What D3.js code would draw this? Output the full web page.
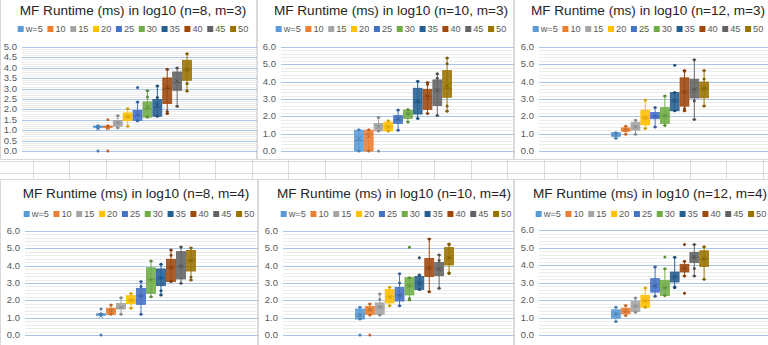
<!DOCTYPE html>
<html>
<head>
<meta charset="utf-8">
<script src="https://cdn.jsdelivr.net/npm/d3@7"></script>
<style>
  body { margin: 0; background: #fff; }
  svg { display: block; font-family: "Liberation Sans", Arial, sans-serif; }
</style>
</head>
<body>
<svg id="chart" width="768" height="345"></svg>
<script>
const series = ["w=5", "10", "15", "20", "25", "30", "35", "40", "45", "50"];
const colors = ["#5B9BD5", "#ED7D31", "#A5A5A5", "#FFC000", "#4472C4", "#70AD47", "#255E91", "#9E480E", "#636363", "#997300"];
const titles = [
  "MF Runtime (ms) in log10 (n=8, m=3)", "MF Runtime (ms) in log10 (n=10, m=3)", "MF Runtime (ms) in log10 (n=12, m=3)",
  "MF Runtime (ms) in log10 (n=8, m=4)", "MF Runtime (ms) in log10 (n=10, m=4)", "MF Runtime (ms) in log10 (n=12, m=4)"
];
const yMax = [5, 6, 6, 6, 6, 6];
const yStep = [0.5, 1, 1, 1, 1, 1];

// [low whisker, q1, median, q3, high whisker, mean] per series
const n8m3 = [
  [1.10, 1.15, 1.18, 1.20, 1.21, 1.07], [1.10, 1.14, 1.17, 1.20, 1.21, 1.10], [1.12, 1.19, 1.35, 1.47, 1.70, 1.35],
  [1.19, 1.47, 1.65, 1.83, 2.03, 1.65], [1.45, 1.47, 1.70, 1.95, 2.35, 1.75], [1.63, 1.63, 2.05, 2.36, 2.90, 2.10],
  [1.67, 1.67, 2.10, 2.48, 3.13, 2.20], [1.80, 2.28, 3.00, 3.51, 3.93, 3.05], [2.15, 2.92, 3.30, 3.80, 3.99, 3.35],
  [2.88, 3.40, 3.90, 4.36, 4.68, 3.90]
];
const n10m3 = [
  [0.00, 0.00, 0.60, 1.20, 1.22, 0.72], [0.00, 0.00, 1.00, 1.20, 1.22, 0.85], [1.16, 1.16, 1.45, 1.59, 1.93, 1.40],
  [1.16, 1.16, 1.40, 1.66, 1.74, 1.40], [1.20, 1.59, 1.80, 2.05, 2.36, 1.85], [1.68, 1.88, 2.15, 2.36, 2.40, 2.15],
  [1.88, 2.13, 2.85, 3.62, 4.02, 2.85], [2.17, 2.40, 3.15, 3.56, 3.95, 3.15], [2.05, 2.63, 3.50, 4.10, 4.45, 3.50],
  [2.30, 3.10, 3.60, 4.64, 5.36, 3.75]
];
const n12m3 = [
  [0.73, 0.85, 0.92, 1.06, 1.06, 0.92], [0.97, 1.14, 1.22, 1.33, 1.43, 1.22], [0.97, 1.20, 1.40, 1.66, 1.78, 1.40],
  [1.30, 1.51, 1.90, 2.36, 2.94, 1.90], [1.39, 1.86, 2.00, 2.22, 2.51, 2.00], [1.47, 1.59, 2.05, 2.50, 3.17, 2.05],
  [2.32, 2.32, 2.90, 3.37, 3.37, 2.90], [2.32, 2.59, 3.40, 4.22, 4.64, 3.40], [1.82, 3.06, 3.55, 4.14, 5.26, 3.55],
  [2.59, 3.07, 3.60, 3.98, 4.64, 3.60]
];
const n8m4 = [
  [1.15, 1.17, 1.20, 1.22, 1.22, 1.10], [1.19, 1.19, 1.40, 1.54, 1.73, 1.40], [1.19, 1.50, 1.60, 1.83, 2.15, 1.60],
  [1.54, 1.81, 2.00, 2.27, 2.40, 2.00], [1.19, 1.77, 2.25, 2.69, 3.08, 2.25], [2.21, 2.40, 3.20, 3.88, 4.27, 3.20],
  [2.31, 2.85, 3.30, 3.81, 4.08, 3.30], [3.08, 3.08, 3.90, 4.37, 4.90, 3.90], [2.98, 3.23, 3.95, 4.81, 5.08, 3.95],
  [3.17, 3.69, 4.30, 4.88, 5.02, 4.30]
];
const n10m4 = [
  [0.92, 0.92, 1.15, 1.50, 1.60, 1.15], [1.15, 1.19, 1.45, 1.65, 1.79, 1.45], [1.15, 1.19, 1.60, 1.85, 2.37, 1.60],
  [1.69, 1.85, 2.20, 2.62, 2.75, 2.20], [1.69, 1.96, 2.30, 2.75, 3.54, 2.30], [2.02, 2.31, 2.85, 3.31, 3.31, 2.85],
  [2.62, 2.62, 3.00, 3.38, 3.46, 3.00], [2.50, 3.38, 3.85, 4.42, 5.54, 3.85], [2.69, 3.42, 3.80, 4.19, 4.62, 3.80],
  [3.58, 4.04, 4.45, 5.04, 5.25, 4.45]
];
const n12m4 = [
  [0.77, 0.96, 1.20, 1.44, 1.59, 1.20], [1.11, 1.21, 1.35, 1.53, 1.69, 1.35], [1.30, 1.34, 1.65, 1.92, 2.11, 1.65],
  [1.59, 1.59, 1.95, 2.26, 2.68, 1.95], [2.22, 2.45, 2.80, 3.22, 3.89, 2.80], [2.26, 2.26, 2.70, 3.12, 3.79, 2.70],
  [2.74, 3.03, 3.30, 3.60, 4.44, 3.30], [3.37, 3.60, 3.80, 4.04, 4.21, 3.80], [3.37, 4.14, 4.45, 4.71, 5.17, 4.45],
  [3.18, 3.91, 4.35, 4.81, 5.04, 4.35]
];
// visible single points (outliers and marked inner points) per series
const n8m3Pts = [[0], [0, 1.5], [], [], [3.05], [2.6], [2.57], [1.9], [], [3.25]];
const n10m3Pts = [[], [], [0], [], [], [], [], [3.85], [4.2], [5.03, 2.6]];
const n12m3Pts = [[], [], [], [], [], [], [4.95], [4.6, 2.45], [2.9], [4.15]];
const n8m4Pts = [[0, 1.5], [], [], [], [2.8], [], [2.55], [4.6], [], [3.35]];
const n10m4Pts = [[0], [0], [2.05], [], [3.0], [5.06, 2.1], [4.46], [], [4.3], [5.2, 3.55]];
const n12m4Pts = [[], [], [], [], [], [4.46], [2.7], [5.17, 2.39], [3.8], []];

const stats = [n8m3, n10m3, n12m3, n8m4, n10m4, n12m4];
const points = [n8m3Pts, n10m3Pts, n12m3Pts, n8m4Pts, n10m4Pts, n12m4Pts];

// panel geometry (screen layout)
const panels = [
  {x0: 0,   x1: 257, y0: -1,  y1: 160, plotL: 22,  top: 47,  bottom: 151, band: [93, 192],  titleX: 133, titleY: 15,  legX: 133, legY: 29},
  {x0: 257, x1: 514, y0: -1,  y1: 160, plotL: 281, top: 47,  bottom: 151, band: [354, 452], titleX: 391, titleY: 15,  legX: 391, legY: 29},
  {x0: 514, x1: 769, y0: -1,  y1: 160, plotL: 539, top: 47,  bottom: 151, band: [611, 709], titleX: 648, titleY: 15,  legX: 648, legY: 29},
  {x0: 0,   x1: 258, y0: 179, y1: 346, plotL: 25,  top: 231, bottom: 335, band: [96, 196],  titleX: 136, titleY: 198, legX: 139, legY: 214},
  {x0: 258, x1: 514, y0: 179, y1: 346, plotL: 283, top: 231, bottom: 335, band: [355, 454], titleX: 394, titleY: 198, legX: 396, legY: 214},
  {x0: 514, x1: 769, y0: 179, y1: 346, plotL: 539, top: 230, bottom: 335, band: [611, 709], titleX: 650, titleY: 198, legX: 651, legY: 214}
];

const svg = d3.select("#chart");

// spreadsheet cells visible between the two rows of charts
const sheet = svg.append("g");
sheet.append("rect").attr("x", 0).attr("y", 0).attr("width", 768).attr("height", 345).attr("fill", "#fff");
d3.range(33, 768, 36.5).forEach(x => {
  sheet.append("line").attr("x1", x).attr("x2", x).attr("y1", 160).attr("y2", 179)
    .attr("stroke", "#dcdcdc").attr("shape-rendering", "crispEdges");
});
[161, 173].forEach(y => {
  sheet.append("line").attr("x1", 0).attr("x2", 768).attr("y1", y).attr("y2", y)
    .attr("stroke", "#dcdcdc").attr("shape-rendering", "crispEdges");
});

function darker(c, k) { return d3.color(c).darker(k).formatHex(); }

panels.forEach((p, pi) => {
  const clipId = "clip" + pi;
  svg.append("clipPath").attr("id", clipId)
    .append("rect").attr("x", p.x0).attr("y", p.y0).attr("width", p.x1 - p.x0).attr("height", p.y1 - p.y0);

  const g = svg.append("g").attr("clip-path", `url(#${clipId})`);
  g.append("rect")
    .attr("x", p.x0 + 0.5).attr("y", p.y0 + 0.5)
    .attr("width", p.x1 - p.x0 - 1).attr("height", p.y1 - p.y0 - 1)
    .attr("fill", "#fff").attr("stroke", "#d9d9d9");

  const y = d3.scaleLinear().domain([0, yMax[pi]]).range([p.bottom, p.top]);
  const x = d3.scaleBand().domain(series).range(p.band).paddingInner(0.1).paddingOuter(0.05);
  const bw = x.bandwidth();
  const gridR = p.x1 + 4;

  // minor grid
  const minorStep = yStep[pi] / 5;
  g.append("g").selectAll("line")
    .data(d3.range(0, yMax[pi] + 1e-9, minorStep))
    .join("line")
    .attr("x1", p.plotL).attr("x2", gridR)
    .attr("y1", d => Math.round(y(d)) + 0.5).attr("y2", d => Math.round(y(d)) + 0.5)
    .attr("stroke", "#ececec");

  // major grid + labels
  const ticks = d3.range(0, yMax[pi] + 1e-9, yStep[pi]);
  g.append("g").selectAll("line")
    .data(ticks)
    .join("line")
    .attr("x1", p.plotL).attr("x2", gridR)
    .attr("y1", d => Math.round(y(d)) + 0.5).attr("y2", d => Math.round(y(d)) + 0.5)
    .attr("stroke", "#a9c6e6").attr("stroke-width", 1.2);

  g.append("g").selectAll("text")
    .data(ticks)
    .join("text")
    .attr("x", p.plotL - 5).attr("y", d => y(d) + 3)
    .attr("text-anchor", "end")
    .attr("font-size", 9.5).attr("fill", "#595959")
    .text(d => d.toFixed(1));

  // title
  g.append("text")
    .attr("x", p.titleX).attr("y", p.titleY)
    .attr("text-anchor", "middle")
    .attr("font-size", 13.6).attr("fill", "#262626")
    .text(titles[pi]);

  // legend
  const gap = 4.6;
  const leg = g.append("g");
  const items = leg.selectAll("g").data(series).join("g");
  items.append("rect").attr("width", 6).attr("height", 6).attr("y", -5).attr("fill", (d, i) => colors[i]);
  items.append("text").attr("x", 8).attr("y", 1).attr("font-size", 9.2).attr("fill", "#595959").text(d => d);
  let cx = 0;
  items.each(function() {
    d3.select(this).attr("transform", `translate(${cx},0)`);
    cx += 8 + this.querySelector("text").getComputedTextLength() + gap;
  });
  leg.attr("transform", `translate(${p.legX - (cx - gap) / 2},${p.legY + 2})`);

  // boxes
  const boxes = g.append("g").selectAll("g").data(stats[pi]).join("g");
  boxes.each(function(s, i) {
    const b = d3.select(this);
    const c = colors[i], dk = darker(c, 0.6);
    const xc = x(series[i]) + bw / 2;
    const [lo, q1, med, q3, hi, mean] = s;
    b.append("line").attr("x1", xc).attr("x2", xc).attr("y1", y(lo)).attr("y2", y(hi))
      .attr("stroke", c).attr("stroke-width", 1);
    [lo, hi].forEach(v => {
      b.append("line").attr("x1", xc - bw * 0.22).attr("x2", xc + bw * 0.22)
        .attr("y1", y(v)).attr("y2", y(v)).attr("stroke", c);
    });
    b.append("rect")
      .attr("x", x(series[i])).attr("width", bw)
      .attr("y", y(q3)).attr("height", Math.max(1.5, y(q1) - y(q3)))
      .attr("fill", c).attr("fill-opacity", 0.88)
      .attr("stroke", c).attr("stroke-width", 0.8);
    b.append("line").attr("x1", x(series[i])).attr("x2", x(series[i]) + bw)
      .attr("y1", y(med)).attr("y2", y(med)).attr("stroke", dk).attr("stroke-opacity", 0.5);
    const m = 2.2, ym = y(mean);
    b.append("path")
      .attr("d", `M${xc - m},${ym - m}L${xc + m},${ym + m}M${xc - m},${ym + m}L${xc + m},${ym - m}`)
      .attr("stroke", dk).attr("stroke-width", 0.9).attr("fill", "none");
    [lo, hi].concat(points[pi][i]).forEach(v => {
      b.append("circle").attr("cx", xc).attr("cy", y(v)).attr("r", 1.5).attr("fill", dk);
    });
  });
});
</script>
</body>
</html>
